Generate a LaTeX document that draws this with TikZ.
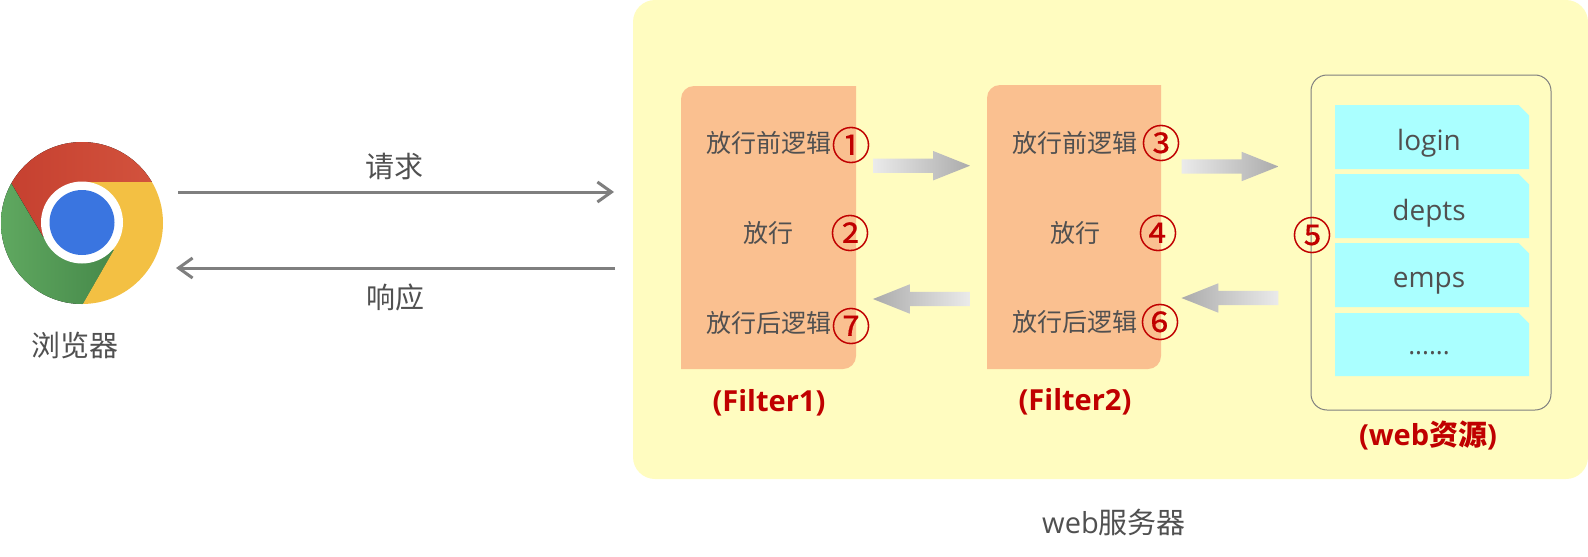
\documentclass[tikz,border=0pt]{standalone}
\usepackage{fontspec}
\setmainfont{Open Sans}
\newfontfamily\cjk{Noto Sans CJK SC}
\newfontfamily\numfont[FakeBold=0.3]{Noto Sans CJK SC}
\usetikzlibrary{shapes.arrows,arrows.meta}
\definecolor{panelY}{HTML}{FFFCC0}
\definecolor{boxO}{HTML}{FAC090}
\definecolor{cardC}{HTML}{AAFFFF}
\definecolor{txtG}{HTML}{505050}
\definecolor{redC}{HTML}{C00000}
\definecolor{lineG}{HTML}{7F7F7F}
\definecolor{crRedL}{HTML}{C43E2E}
\definecolor{crRedR}{HTML}{D4553F}
\definecolor{crGreenL}{HTML}{62AB62}
\definecolor{crGreenR}{HTML}{46894A}
\definecolor{crYellow}{HTML}{F3C043}
\definecolor{crBlue}{HTML}{3A75E0}
\tikzset{
  every node/.style={inner sep=0pt,outer sep=0pt},
  zh/.style={text=txtG,font=\fontsize{25}{30}\selectfont\cjk},
  zhbig/.style={text=txtG,font=\fontsize{29}{34}\selectfont\cjk},
  cardtxt/.style={text=txtG,font=\fontsize{28}{32}\selectfont},
  dotstxt/.style={text=txtG,font=\fontsize{26}{32}\selectfont},
  num/.style={text=redC,font=\fontsize{39}{42}\selectfont\numfont},
  capt/.style={text=redC,font=\fontsize{29}{34}\selectfont\bfseries},
  flow/.style={draw=lineG,line width=3pt,-{Straight Barb[length=14pt,width=20pt,line width=3pt]}},
  blockbase/.style={single arrow,minimum width=29pt,minimum height=97pt,single arrow tip angle=43.5,single arrow head extend=7.5pt,inner xsep=0pt,inner ysep=7pt},
  blockR/.style={blockbase,left color=black!8,right color=black!33},
  blockL/.style={blockbase,shape border rotate=180,left color=black!33,right color=black!8},
  orangebox/.style={fill=boxO},
  cardbox/.style={fill=cardC},
}
\begin{document}
\begin{tikzpicture}[x=1pt,y=-1pt]
\useasboundingbox (0,0) rectangle (1588,557);
% panel
\fill[panelY,rounded corners=22pt] (633,0) rectangle (1588,479);
% chrome icon
\begin{scope}
 \clip (82,223) circle (81pt);
 \fill[left color=crRedL, right color=crRedR] (152,182) -- (82,182) -- (82,223) -- (43,237) -- (11,183) -- (-10,100) -- (175,100) -- cycle;
 \fill[left color=crGreenL, right color=crGreenR] (11,183) -- (43,237) -- (82,223) -- (114,250) -- (83,304) -- (0,320) -- (-10,200) -- cycle;
 \fill[crYellow] (152,182) -- (82,182) -- (82,223) -- (114,250) -- (83,304) -- (175,320) -- (175,182) -- cycle;
\end{scope}
\fill[white] (82,222.5) circle (41pt);
\fill[crBlue] (82,222.5) circle (32.5pt);
\node[zhbig] (browser) at (75,345) {浏览器};
% flow arrows
\coordinate (reqA) at (178,192);
\coordinate (reqB) at (614,192);
\coordinate (resA) at (615,268);
\coordinate (resB) at (176,268);
\draw[flow] (reqA) -- (reqB);
\draw[flow] (resA) -- (resB);
\node[zhbig] (req) at (394,167) {请求};
\node[zhbig] (res) at (395,297) {响应};
% filter boxes
\path[orangebox] (856,86) -- (694,86) .. controls (686.8,86) and (681,91.8) .. (681,99) -- (681,369) -- (843,369) .. controls (850.2,369) and (856,363.2) .. (856,356) -- cycle;
\path[orangebox] (1161,85) -- (1000,85) .. controls (992.8,85) and (987,90.8) .. (987,98) -- (987,369) -- (1148,369) .. controls (1155.2,369) and (1161,363.2) .. (1161,356) -- cycle;
% filter 1 text
\node[zh] (f1a) at (768.5,143) {放行前逻辑};
\node[zh] (f1b) at (768,233) {放行};
\node[zh] (f1c) at (768.5,323) {放行后逻辑};
\node[num] (n1) at (851,145) {①};
\node[num] (n2) at (850,233) {②};
\node[num] (n7) at (851,326) {⑦};
\node[capt] (c1) at (769,403) {(Filter1)};
% filter 2 text
\node[zh] (f2a) at (1075,143) {放行前逻辑};
\node[zh] (f2b) at (1075,233) {放行};
\node[zh] (f2c) at (1075,322) {放行后逻辑};
\node[num] (n3) at (1161,143) {③};
\node[num] (n4) at (1158,233) {④};
\node[num] (n6) at (1160,322) {⑥};
\node[capt] (c2) at (1075,402) {(Filter2)};
% block arrows
\node[blockR] (b1) at (912.5,165.7) {};
\node[blockL] (b2) at (930.5,299) {};
\node[blockR] (b3) at (1221,166.5) {};
\node[blockL] (b4) at (1239,298) {};
% web box
\draw[lineG,line width=1pt,rounded corners=16pt] (1311,75) rectangle (1551,410);
\path[cardbox] (1335,105) -- (1518.5,105) -- (1529,115.5) -- (1529,169) -- (1335,169) -- cycle;
\path[cardbox] (1335,174) -- (1518.5,174) -- (1529,184.5) -- (1529,238) -- (1335,238) -- cycle;
\path[cardbox] (1335,243) -- (1518.5,243) -- (1529,253.5) -- (1529,307) -- (1335,307) -- cycle;
\path[cardbox] (1335,313) -- (1518.5,313) -- (1529,323.5) -- (1529,376) -- (1335,376) -- cycle;
\node[cardtxt] (t1) at (1429,143) {login};
\node[cardtxt] (t2) at (1429,213) {depts};
\node[cardtxt] (t3) at (1429,283) {emps};
\node[dotstxt] (t4) at (1429,353) {......};
\node[num] (n5) at (1312,235) {⑤};
\node[capt] (c3) at (1428,435) {(web{\cjk\bfseries 资源})};
\node[text=txtG,font=\fontsize{29}{34}\selectfont] (srv) at (1114,522) {web{\cjk 服务器}};
\end{tikzpicture}
\end{document}
